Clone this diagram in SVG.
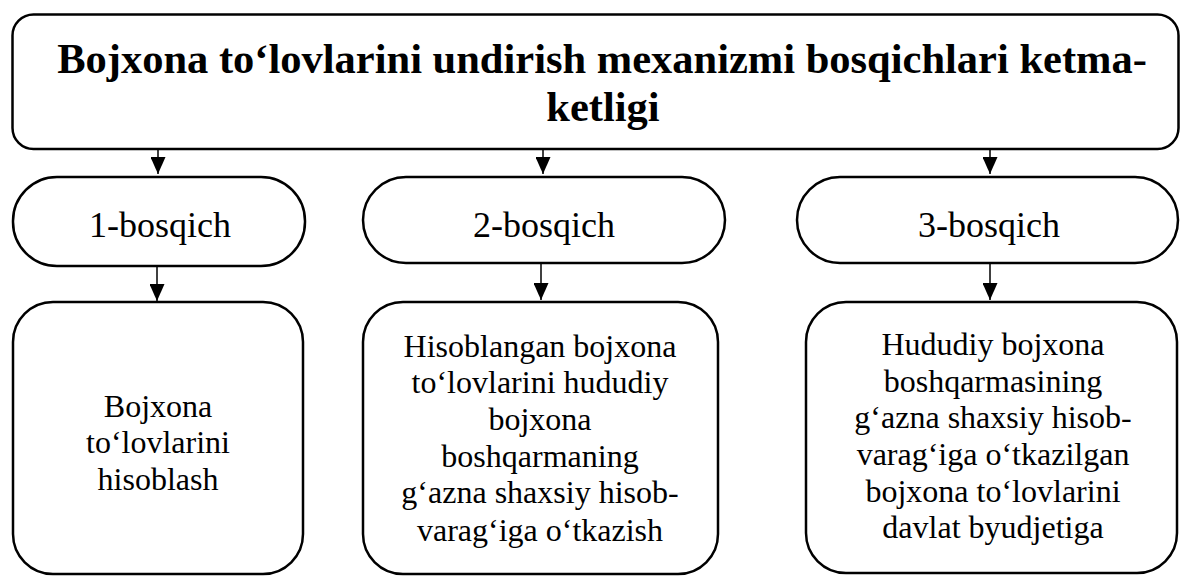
<svg xmlns="http://www.w3.org/2000/svg" width="1181" height="576" viewBox="0 0 1181 576">
<defs>
<style>
.box{fill:#fff;stroke:#000;stroke-width:2.5}
.t{font-family:"Liberation Serif","Times New Roman",serif;fill:#000;text-anchor:middle}
.title{font-size:42.5px;font-weight:bold}
.pill{font-size:36px}
.body{font-size:32px}
.conn{stroke:#000;stroke-width:1.5;fill:none;marker-end:url(#ah)}
</style>
<marker id="ah" markerUnits="userSpaceOnUse" markerWidth="17" markerHeight="15" refX="17" refY="7.5" orient="auto" viewBox="0 0 17 15">
<path d="M0,0 L17,7.5 L0,15 Z" fill="#000"/>
</marker>
</defs>
<g id="title">
<rect class="box" x="12.5" y="14.5" width="1166" height="134.5" rx="21" ry="21"/>
<text class="t title" x="602" y="73">Bojxona to‘lovlarini undirish mexanizmi bosqichlari ketma-</text>
<text class="t title" x="603" y="121">ketligi</text>
</g>
<g id="stage1">
<rect class="box" x="13" y="177" width="292" height="89" rx="44" ry="44"/>
<text class="t pill" x="160" y="237">1-bosqich</text>
</g>
<g id="stage2">
<rect class="box" x="363" y="177" width="362" height="86" rx="43" ry="43"/>
<text class="t pill" x="544" y="237">2-bosqich</text>
</g>
<g id="stage3">
<rect class="box" x="797" y="177" width="381" height="86" rx="43" ry="43"/>
<text class="t pill" x="989" y="237">3-bosqich</text>
</g>
<g id="box1">
<rect class="box" x="13" y="302" width="290" height="272" rx="40" ry="40"/>
<text class="t body" x="158" y="417">Bojxona</text>
<text class="t body" x="158" y="453">to‘lovlarini</text>
<text class="t body" x="158" y="490">hisoblash</text>
</g>
<g id="box2">
<rect class="box" x="363" y="302" width="355" height="272" rx="40" ry="40"/>
<text class="t body" x="540" y="357">Hisoblangan bojxona</text>
<text class="t body" x="540" y="393">to‘lovlarini hududiy</text>
<text class="t body" x="540" y="430">bojxona</text>
<text class="t body" x="540" y="467">boshqarmaning</text>
<text class="t body" x="540" y="503">g‘azna shaxsiy hisob-</text>
<text class="t body" x="540" y="541">varag‘iga o‘tkazish</text>
</g>
<g id="box3">
<rect class="box" x="806" y="302" width="371" height="271" rx="40" ry="40"/>
<text class="t body" x="993" y="355">Hududiy bojxona</text>
<text class="t body" x="993" y="392">boshqarmasining</text>
<text class="t body" x="993" y="428">g‘azna shaxsiy hisob-</text>
<text class="t body" x="993" y="465">varag‘iga o‘tkazilgan</text>
<text class="t body" x="993" y="502">bojxona to‘lovlarini</text>
<text class="t body" x="993" y="538">davlat byudjetiga</text>
</g>
<g id="connectors">
<line class="conn" x1="158" y1="149" x2="158" y2="174"/>
<line class="conn" x1="543" y1="149" x2="543" y2="174"/>
<line class="conn" x1="990" y1="149" x2="990" y2="174"/>
<line class="conn" x1="157" y1="266" x2="157" y2="301"/>
<line class="conn" x1="541" y1="263" x2="541" y2="300"/>
<line class="conn" x1="990" y1="263" x2="990" y2="300"/>
</g>
</svg>
